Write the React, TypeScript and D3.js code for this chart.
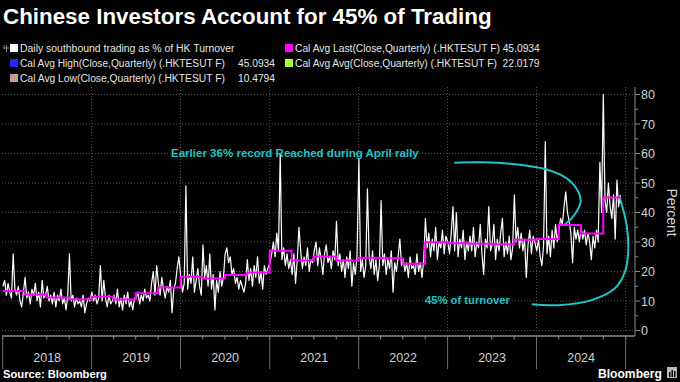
import React, { useLayoutEffect, useRef } from "react";
import * as d3 from "d3";

// ---------- DATA ----------
const title = "Chinese Investors Account for 45% of Trading";
const yearLabels = ["2018", "2019", "2020", "2021", "2022", "2023", "2024"];
const yTicks = [0, 10, 20, 30, 40, 50, 60, 70, 80];
const yMinorTicks = [5, 15, 25, 35, 45, 55, 65, 75];

// weekly readings of "Daily southbound trading as % of HK Turnover" (week i of each year)
const w2018 = [15, 17, 12, 16, 13, 11, 26, 14, 12, 15, 10, 8, 13, 18, 11, 13, 9, 14, 12, 16, 10, 13, 8, 17, 11, 12, 15, 10, 12, 9, 13, 8, 12, 10, 14, 9, 11, 7, 12, 26, 10, 12, 8, 11, 9, 10, 8, 12, 6, 9, 11, 10];
const w2019 = [13, 10, 12, 9, 11, 22, 10, 17, 11, 8, 12, 9, 10, 12, 9, 14, 8, 11, 7, 12, 9, 13, 8, 10, 7, 11, 11, 13, 9, 12, 10, 14, 11, 12, 10, 16, 20, 12, 22, 16, 12, 18, 14, 11, 15, 13, 17, 6, 14, 16, 21, 25];
const w2020 = [18, 13, 16, 49, 14, 19, 16, 25, 13, 17, 21, 15, 12, 29, 18, 22, 15, 26, 14, 19, 7, 17, 13, 20, 15, 18, 26, 28, 23, 25, 19, 21, 16, 18, 14, 17, 15, 13, 16, 24, 17, 21, 15, 22, 18, 25, 16, 20, 14, 22, 19, 21];
const w2021 = [23, 26, 30, 25, 33, 27, 60, 24, 28, 22, 26, 21, 24, 19, 26, 16, 24, 35, 27, 21, 25, 22, 28, 20, 24, 23, 27, 30, 22, 28, 24, 19, 26, 29, 23, 25, 21, 27, 24, 37, 22, 26, 20, 24, 18, 25, 21, 27, 15, 23, 19, 25];
const w2022 = [58, 20, 24, 18, 22, 48, 25, 21, 27, 19, 24, 17, 22, 44, 22, 26, 19, 24, 21, 27, 13, 23, 20, 25, 31, 22, 24, 20, 23, 18, 25, 21, 22, 19, 26, 20, 23, 18, 24, 38, 28, 33, 25, 31, 27, 35, 24, 30, 28, 34, 26, 32];
const w2023 = [30, 26, 33, 42, 27, 40, 25, 31, 28, 34, 24, 30, 27, 32, 27, 35, 25, 30, 28, 36, 26, 19, 31, 28, 42, 27, 29, 36, 24, 31, 27, 33, 38, 25, 30, 26, 32, 24, 28, 46, 30, 35, 28, 33, 27, 31, 18, 29, 34, 26, 32, 30];
const w2024 = [27, 31, 25, 22, 29, 64, 26, 32, 25, 34, 28, 36, 30, 34, 38, 36, 42, 47, 40, 37, 33, 23, 35, 31, 34, 30, 35, 31, 34, 29, 33, 30, 24, 32, 28, 34, 30, 57, 40, 80, 44, 40, 50, 42, 38, 46, 31, 51, 42, 46];
const weeklyByYear = [w2018, w2019, w2020, w2021, w2022, w2023, w2024];

// Cal Avg (Close, Quarterly), 2018Q1 .. 2024Q4
const quarterAvg = [13.4, 12.2, 11.2, 10.6, 11.4, 10.48, 12.6, 14.6, 18.2, 17.6, 18.8, 19.7, 27.0, 23.7, 25.1, 23.7, 24.7, 24.5, 22.6, 29.9, 29.6, 29.4, 29.2, 30.8, 31.0, 35.8, 32.9, 45.09];

const legendLeft = [
  { label: "Daily southbound trading as % of HK Turnover", value: "", color: "#ffffff" },
  { label: "Cal Avg High(Close,Quarterly) (.HKTESUT F)", value: "45.0934", color: "#2626ff" },
  { label: "Cal Avg Low(Close,Quarterly) (.HKTESUT F)", value: "10.4794", color: "#c79a96" },
];
const legendRight = [
  { label: "Cal Avg Last(Close,Quarterly) (.HKTESUT F) 45.0934", color: "#ff00ff" },
  { label: "Cal Avg Avg(Close,Quarterly) (.HKTESUT F)  22.0179", color: "#a6ff3c" },
];

// annotation curves, in [fractional years since 2018, percent]
const arc1 = [[5.074, 56.9], [5.4, 57.0], [5.775, 56.3], [6.112, 54.6], [6.337, 51.6], [6.467, 47.1], [6.494, 43.7], [6.449, 40.3], [6.382, 37.7], [6.318, 36.0]];
const arc2 = [[5.944, 8.9], [6.243, 8.6], [6.618, 10.3], [6.88, 14.3], [6.992, 19.9], [7.029, 26.7], [7.011, 35.8], [6.936, 44.8]];
const note1 = "Earlier 36% record Reached during April rally";
const note2 = "45% of turnover";

// ---------- CHART ----------
const W = 680, H = 382;
const CYAN = "#22c3c3";
const FONT = "'Liberation Sans', Arial, sans-serif";

export default function App() {
  const ref = useRef<SVGSVGElement>(null);

  // squeeze texts horizontally to the widths measured on the reference
  useLayoutEffect(() => {
    const svg = ref.current;
    if (!svg) return;
    svg.querySelectorAll<SVGTextElement>("text[data-w]").forEach((t) => {
      t.removeAttribute("transform");
      const target = +(t.getAttribute("data-w") || 0);
      const nat = t.getComputedTextLength();
      if (!nat || !target) return;
      const s = target / nat;
      const x0 = +(t.getAttribute("x") || 0);
      t.setAttribute("transform", `matrix(${s},0,0,1,${x0 * (1 - s)},0)`);
    });
  }, []);

  const x = d3.scaleTime().domain([new Date(2018, 0, 1), new Date(2025, 0, 1)]).range([2.7, 625.7]);
  const y = d3.scaleLinear().domain([0, 80]).range([330.5, 94.5]);
  const xEnd = 635;
  const plotTop = 87;

  const daily: [Date, number][] = [];
  weeklyByYear.forEach((arr, yi) => {
    arr.forEach((v, i) => daily.push([new Date(2018 + yi, 0, 2 + 7 * i), v]));
  });
  const lastDate = daily[daily.length - 1][0];

  const qPts: [Date, number][] = quarterAvg.map((v, q) => [new Date(2018 + Math.floor(q / 4), (q % 4) * 3, 1), v]);
  qPts.push([lastDate, quarterAvg[quarterAvg.length - 1]]);

  const line = d3.line<[Date, number]>().x((d) => x(d[0])).y((d) => y(d[1]));
  const step = d3.line<[Date, number]>().x((d) => x(d[0])).y((d) => y(d[1])).curve(d3.curveStepAfter);

  const t0 = new Date(2018, 0, 1).getTime();
  const fx = (f: number) => x(new Date(t0 + f * 365.25 * 864e5));
  const arcLine = d3.line<number[]>().x((d) => fx(d[0])).y((d) => y(d[1])).curve(d3.curveCatmullRom.alpha(0.5));

  const years = d3.timeYear.range(new Date(2018, 0, 1), new Date(2025, 0, 2));
  const quarters = d3.timeMonth.every(3)!.range(new Date(2018, 0, 1), new Date(2025, 0, 2));

  return (
    <div style={{ position: "fixed", left: 0, top: 0, width: W, height: H }}>
      <svg ref={ref} width={W} height={H} style={{ display: "block", background: "#000" }}>
        <rect width={W} height={H} fill="#000" />
        <text x={3} y={24} data-w={489} fill="#fff" fontFamily={FONT} fontWeight={700} fontSize={22}>{title}</text>

        {/* legend */}
        <g fontFamily={FONT} fontSize={11.5} fill="#e4e4e4">
          <path d="M4 45 v4 M6.5 45 v4 M4 48 h5 M6.5 49 v3" stroke="#888" strokeWidth={1} fill="none" />
          {legendLeft.map((d, i) => (
            <g key={d.label} transform={`translate(0,${48 + i * 15})`}>
              <rect x={10} y={-4} width={8} height={8} fill={d.color} />
              <text x={20} y={4} data-w={i === 0 ? 215 : 205}>{d.label}</text>
              {d.value && <text x={238} y={4} data-w={37}>{d.value}</text>}
            </g>
          ))}
          {legendRight.map((d, i) => (
            <g key={d.label} transform={`translate(0,${48 + i * 15})`}>
              <rect x={285} y={-4} width={8} height={8} fill={d.color} />
              <text x={295} y={4} data-w={245} style={{ whiteSpace: "pre" }}>{d.label}</text>
            </g>
          ))}
        </g>

        {/* grid */}
        <g stroke="#555" strokeWidth={1} strokeDasharray="1,2">
          {yTicks.map((t) => (
            <line key={t} x1={2} x2={xEnd} y1={y(t)} y2={y(t)} />
          ))}
          {years.slice(1).map((d) => (
            <line key={+d} x1={x(d)} x2={x(d)} y1={plotTop} y2={333} />
          ))}
        </g>

        {/* bottom axis */}
        <line x1={2} x2={xEnd} y1={336} y2={336} stroke="#8a8a8a" strokeWidth={1.5} />
        {quarters.map((d) => (
          <line key={+d} x1={x(d)} x2={x(d)} y1={336} y2={339.5} stroke="#8a8a8a" />
        ))}
        {years.map((d) => (
          <line key={"s" + +d} x1={x(d)} x2={x(d)} y1={336} y2={369} stroke="#6e6e6e" />
        ))}
        {yearLabels.map((lab, i) => {
          const a = x(new Date(2018 + i, 0, 1)), b = x(new Date(2019 + i, 0, 1));
          return (
            <text key={lab} x={(a + b) / 2} y={362} textAnchor="middle" fill="#cfcfcf" fontFamily={FONT} fontSize={12.5}>{lab}</text>
          );
        })}

        {/* right axis */}
        <line x1={xEnd} x2={xEnd} y1={plotTop} y2={336} stroke="#8a8a8a" strokeWidth={1} />
        {yTicks.map((t) => (
          <g key={t}>
            <line x1={xEnd} x2={xEnd + 5} y1={y(t)} y2={y(t)} stroke="#8a8a8a" />
            <text x={xEnd + 6} y={y(t) + 4.5} fill="#d0d0d0" fontFamily={FONT} fontSize={12.5}>{t}</text>
          </g>
        ))}
        {yMinorTicks.map((t) => (
          <line key={t} x1={xEnd} x2={xEnd + 3} y1={y(t)} y2={y(t)} stroke="#8a8a8a" />
        ))}
        <text transform={`translate(667,${y(40)}) rotate(90)`} textAnchor="middle" fill="#d0d0d0" fontFamily={FONT} fontSize={14}>Percent</text>

        {/* series */}
        <path d={line(daily) || ""} fill="none" stroke="#ffffff" strokeWidth={1.2} strokeLinejoin="round" />
        <path d={step(qPts) || ""} fill="none" stroke="#ff00ff" strokeWidth={2} />

        {/* annotations */}
        <path d={arcLine(arc1) || ""} fill="none" stroke={CYAN} strokeWidth={2} />
        <path d={arcLine(arc2) || ""} fill="none" stroke={CYAN} strokeWidth={2} />
        <text x={171} y={157} data-w={248} fill={CYAN} fontFamily={FONT} fontWeight={700} fontSize={11.5}>{note1}</text>
        <text x={425} y={304} data-w={85} fill={CYAN} fontFamily={FONT} fontWeight={700} fontSize={11.5}>{note2}</text>

        {/* footer */}
        <text x={3} y={378} data-w={104} fill="#fff" fontFamily={FONT} fontWeight={700} fontSize={11}>Source: Bloomberg</text>
        <text x={598} y={378} data-w={64} fill="#fff" fontFamily={FONT} fontWeight={700} fontSize={13}>Bloomberg</text>
        <rect x={667} y={367} width={10} height={11} fill="#bbb" />
        <rect x={669} y={372} width={1.5} height={5} fill="#000" />
        <rect x={671.5} y={370} width={1.5} height={7} fill="#000" />
        <rect x={674} y={371} width={1.5} height={6} fill="#000" />
      </svg>
    </div>
  );
}
